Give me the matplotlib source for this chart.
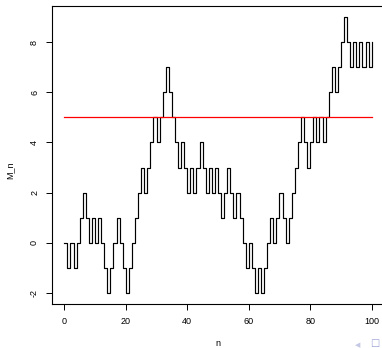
import numpy as np
import matplotlib
matplotlib.use("Agg")
import matplotlib.pyplot as plt

# simple random walk M_n, n = 0..100
n = np.arange(0, 101)
M = [0, -1, 0, -1, 0, 1, 2, 1, 0, 1,
     0, 1, 0, -1, -2, -1, 0, 1, 0, -1,
     -2, -1, 0, 1, 2, 3, 2, 3, 4, 5,
     4, 5, 6, 7, 6, 5, 4, 3, 4, 3,
     2, 3, 2, 3, 4, 3, 2, 3, 2, 3,
     2, 1, 2, 3, 2, 1, 2, 1, 0, -1,
     0, -1, -2, -1, -2, -1, 0, 1, 0, 1,
     2, 1, 0, 1, 2, 3, 4, 5, 4, 3,
     4, 5, 4, 5, 4, 5, 6, 7, 6, 7,
     8, 9, 8, 7, 8, 7, 8, 7, 8, 7,
     8]
level = 5
xticks = [0, 20, 40, 60, 80, 100]
yticks = [-2, 0, 2, 4, 6, 8]

plt.rcParams['font.family'] = ['Liberation Sans', 'DejaVu Sans']
plt.rcParams['axes.unicode_minus'] = False

fig = plt.figure(figsize=(3.82, 3.48), dpi=100)
ax = fig.add_axes([52/382, 1 - 304/348, (384 - 52)/382, (304 - 6)/348])

ax.step(n, M, where='post', color='black', lw=0.85, zorder=2)
ax.plot([n[0], n[-1]], [level, level], color='#ff0000', lw=0.9, zorder=3)

ax.set_xlim(-4, 104)
ax.set_ylim(-2.44, 9.44)
ax.set_xticks(xticks)
ax.set_yticks(yticks)
ax.tick_params(direction='out', length=4.3, width=0.7, labelsize=6.5, pad=5)
for lab in ax.get_yticklabels():
    lab.set_rotation(90)
    lab.set_va('center')
for sp in ax.spines.values():
    sp.set_linewidth(0.8)

fig.text(218/382, 1 - 344/348, "n", ha='center', va='center', fontsize=6.5)
fig.text(10/382, 1 - 170/348, "M_n", ha='center', va='center', fontsize=6.5, rotation=90)

# beamer navigation symbols in the corner
fig.text(358/382, 1 - 345/348, "\u25c0", ha='center', va='center', fontsize=5,
         color='#c4c8e4', family='DejaVu Sans')
fig.text(375/382, 1 - 343/348, "\u25a1", ha='center', va='center', fontsize=7,
         color='#9aa2d6', family='DejaVu Sans')

fig.savefig("out.png", dpi=100)
